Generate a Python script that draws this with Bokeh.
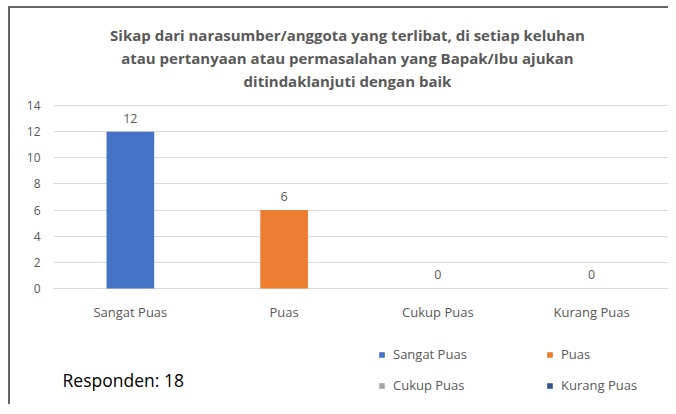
from bokeh.plotting import figure
from bokeh.models import ColumnDataSource, Label, LabelSet, Legend, LegendItem, FactorRange, Range1d
from bokeh.core.properties import value
from bokeh.embed import file_html
from bokeh.resources import INLINE

categories = ["Sangat Puas", "Puas", "Cukup Puas", "Kurang Puas"]
values = [12, 6, 0, 0]
bar_colors = ["#4472C4", "#ED7D31", "#A5A5A5", "#2F5597"]
title_lines = [
    "Sikap dari narasumber/anggota yang terlibat, di setiap keluhan",
    "atau pertanyaan atau permasalahan yang Bapak/Ibu ajukan",
    "ditindaklanjuti dengan baik",
]
note = "Responden: 18"
y_ticks = [0, 2, 4, 6, 8, 10, 12, 14]

FONT = "Open Sans"
GRAY = "#595959"

p = figure(x_range=FactorRange(*categories), y_range=Range1d(-9.03, 21.42),
           width=660, height=398, output_backend="svg", toolbar_location=None,
           min_border_left=43, min_border_right=2, min_border_top=0, min_border_bottom=0)
p.styles = {"margin-left": "8px", "margin-top": "6px",
            "border-left": "2px solid #666666", "border-top": "2px solid #666666"}
p.outline_line_color = None
p.background_fill_color = "white"
p.border_fill_color = "white"

p.xgrid.grid_line_color = None
p.ygrid.grid_line_color = "#d9d9d9"
p.ygrid.grid_line_width = 1
p.ygrid.ticker = y_ticks
p.yaxis.ticker = y_ticks
p.xaxis.fixed_location = 0
for ax in (p.xaxis[0], p.yaxis[0]):
    ax.axis_line_color = None
    ax.major_tick_line_color = None
    ax.minor_tick_line_color = None
    ax.major_label_text_font = FONT
    ax.major_label_text_color = GRAY
p.xaxis.major_label_text_font_size = "13px"
p.yaxis.major_label_text_font_size = "12px"
p.xaxis.major_label_standoff = 9
p.yaxis.major_label_standoff = 7

renderers = {}
for cat, val, col in zip(categories, values, bar_colors):
    src = ColumnDataSource(dict(x=[cat], top=[val]))
    renderers[cat] = p.vbar(x="x", top="top", bottom=0, width=0.31, source=src,
                            fill_color=col, line_color=None)

# column-major fill: col1 = Sangat Puas, Cukup Puas; col2 = Puas, Kurang Puas
legend_order = ["Sangat Puas", "Cukup Puas", "Puas", "Kurang Puas"]
items = [LegendItem(label=c, renderers=[renderers[c]]) for c in legend_order]

src_all = ColumnDataSource(dict(x=categories, y=values, t=[str(v) for v in values]))
p.add_layout(LabelSet(x="x", y="y", text="t", source=src_all, y_offset=9,
                      text_align="center", text_baseline="bottom",
                      text_font=value(FONT), text_font_size="12.5px", text_color=GRAY))

title_y = [19.36, 17.6, 15.91]
for line, ty in zip(title_lines, title_y):
    p.add_layout(Label(x=1.912, y=ty, text=line, text_align="center", text_baseline="middle",
                       text_font=FONT, text_font_size="15px", text_font_style="bold",
                       text_color=GRAY))

p.add_layout(Label(x=0.059, y=-7.04, text=note, text_align="left", text_baseline="middle",
                   text_font=FONT, text_font_size="17.5px", text_color="#000000"))

legend = Legend(items=items, ncols=2, location=(325, 11),
                glyph_width=7, glyph_height=7, label_standoff=8,
                label_text_font=FONT, label_text_font_size="13px", label_text_color=GRAY,
                label_width=142, label_height=20, spacing=11, padding=0,
                background_fill_alpha=0, border_line_color=None)
p.add_layout(legend, "center")

open("out.html", "w").write(file_html(p, INLINE))
